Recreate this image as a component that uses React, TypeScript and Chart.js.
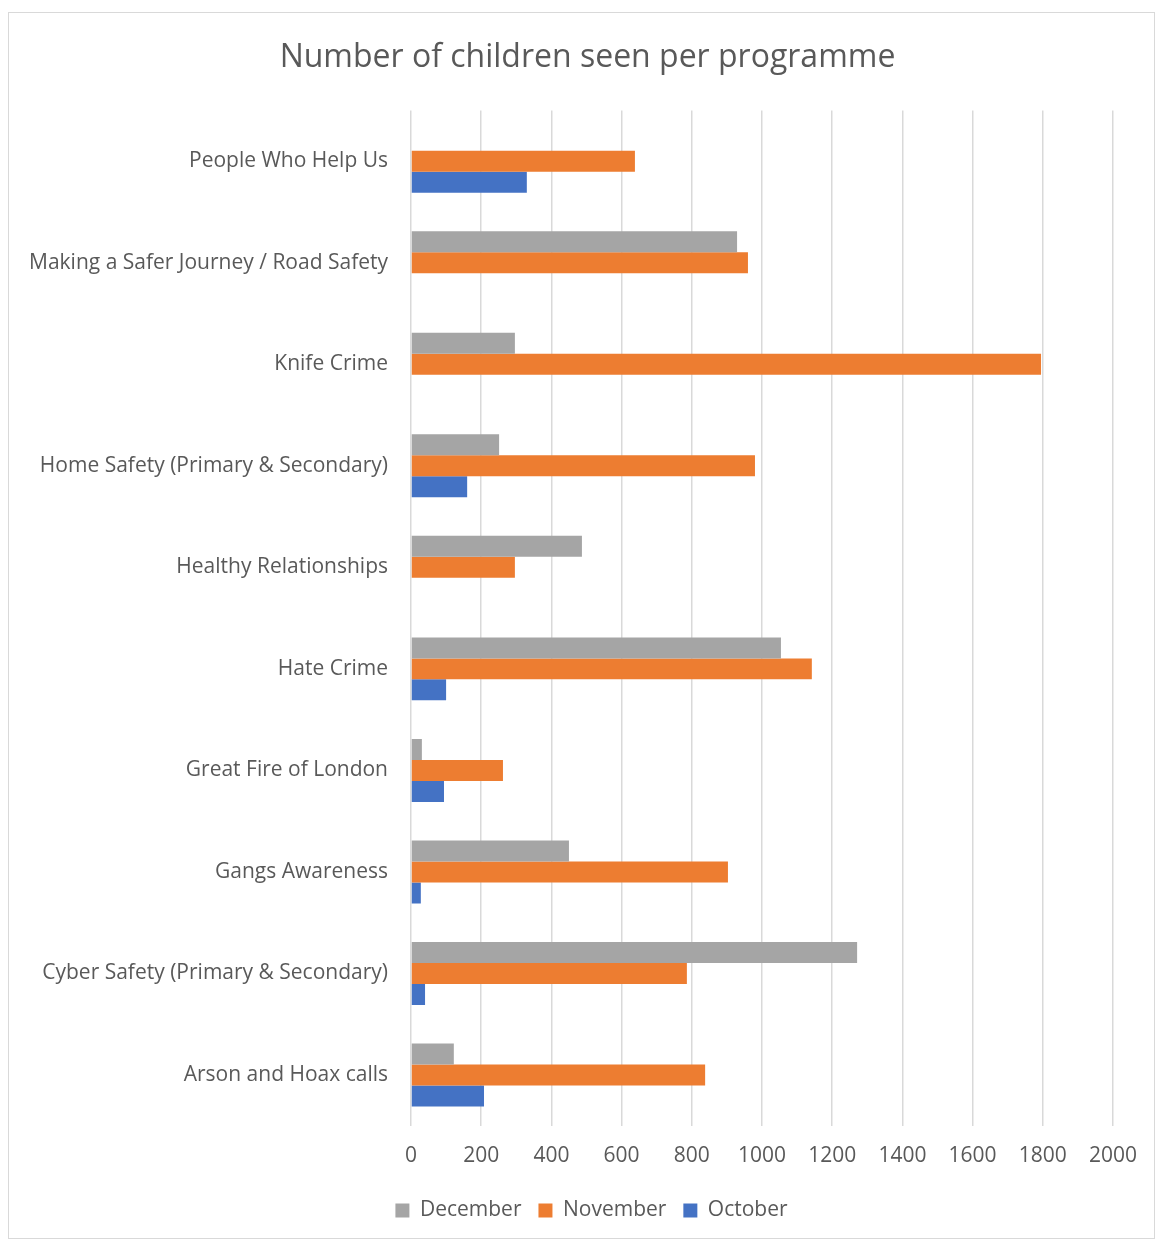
import React, { useEffect, useRef } from "react";
import { Chart, registerables } from "chart.js";

Chart.register(...registerables);

const categories = [
  "People Who Help Us",
  "Making a Safer Journey / Road Safety",
  "Knife Crime",
  "Home Safety (Primary & Secondary)",
  "Healthy Relationships",
  "Hate Crime",
  "Great Fire of London",
  "Gangs Awareness",
  "Cyber Safety (Primary & Secondary)",
  "Arson and Hoax calls",
];

const december = [null, 929, 296, 251, 487, 1054, 31, 450, 1271, 122];
const november = [638, 960, 1795, 980, 296, 1142, 262, 903, 786, 838];
const october = [330, null, null, 160, null, 100, 94, 28, 40, 208];

const seriesNames = ["December", "November", "October"];
const seriesColors = ["#A5A5A5", "#ED7D31", "#4472C4"];

const FONT = "'Open Sans', sans-serif";
const TEXT = "#595959";

const borderPlugin = {
  id: "outerBorder",
  beforeDraw(chart: any) {
    const ctx = chart.ctx;
    ctx.save();
    ctx.fillStyle = "#ffffff";
    ctx.fillRect(0, 0, chart.width, chart.height);
    ctx.strokeStyle = "#d9d9d9";
    ctx.lineWidth = 1;
    ctx.strokeRect(8.5, 12.5, chart.width - 9, chart.height - 13);
    ctx.restore();
  },
};

// centre title and legend over the framed chart rather than the padded area
const centerPlugin = {
  id: "centerBoxes",
  afterLayout(chart: any) {
    if (chart.titleBlock) chart.titleBlock.left += 52;
    if (chart.legend) chart.legend.left += 60;
  },
};

export default function App() {
  const ref = useRef<HTMLCanvasElement>(null);
  useEffect(() => {
    const chart = new Chart(ref.current!, {
      type: "bar",
      data: {
        labels: categories,
        datasets: [december, november, october].map((d, i) => ({
          label: seriesNames[i],
          data: d,
          backgroundColor: seriesColors[i],
          borderWidth: 0,
          categoryPercentage: 0.62,
          barPercentage: 1,
        })),
      },
      options: {
        indexAxis: "y",
        responsive: false,
        animation: false,
        layout: { padding: { left: 10, right: 42, top: 0, bottom: 8 } },
        scales: {
          x: {
            min: 0,
            max: 2000,
            ticks: {
              stepSize: 200,
              color: TEXT,
              font: { family: FONT, size: 21 },
              padding: 18,
              maxRotation: 0,
              callback: (v: any) => String(v),
            },
            grid: { color: "#d9d9d9", lineWidth: 1.5, drawTicks: false },
            border: { display: false },
            afterFit: (s: any) => {
              s.height = s.height - 4;
            },
          },
          y: {
            ticks: {
              color: TEXT,
              font: { family: FONT, size: 21 },
              padding: 23,
            },
            grid: { display: false, drawTicks: false },
            border: { display: false },
            afterFit: (s: any) => {
              s.width = 401;
            },
          },
        },
        plugins: {
          title: {
            display: true,
            text: "Number of children seen per programme",
            color: TEXT,
            font: { family: FONT, size: 32, weight: "normal" },
            padding: { top: 39, bottom: 33 },
          },
          legend: {
            position: "bottom",
            labels: {
              color: TEXT,
              font: { family: FONT, size: 21 },
              boxWidth: 14,
              boxHeight: 14,
              padding: 17,
            },
          },
          tooltip: { enabled: false },
        },
      },
      plugins: [borderPlugin, centerPlugin],
    });
    return () => chart.destroy();
  }, []);
  return (
    <div style={{ position: "absolute", left: 0, top: 0, width: 1155, height: 1239 }}>
      <canvas ref={ref} width={1155} height={1239} style={{ display: "block" }} />
    </div>
  );
}
